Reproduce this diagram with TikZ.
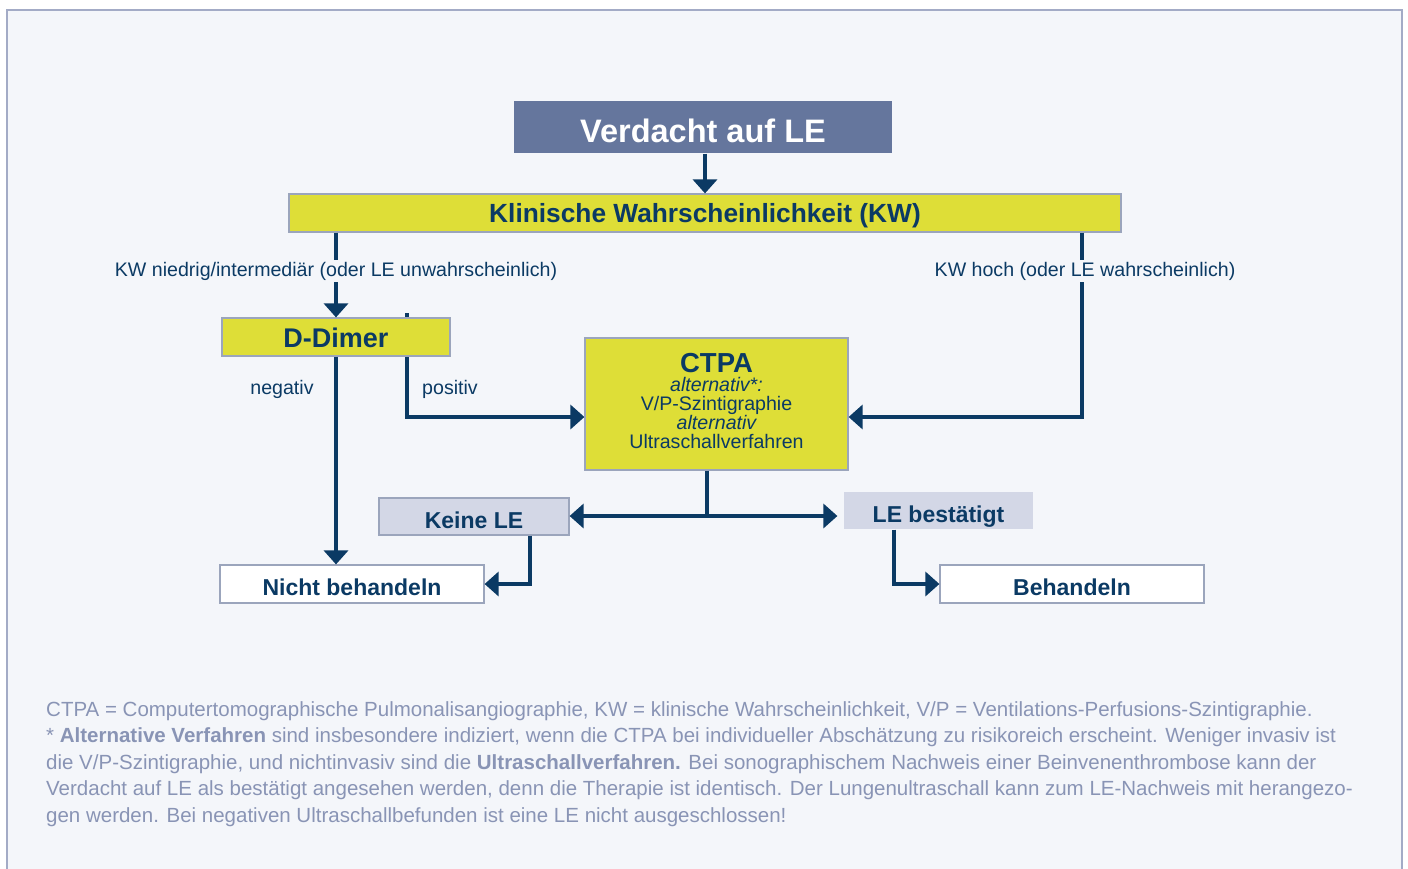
\documentclass[tikz,border=0pt]{standalone}
\usepackage{fontspec}
\setmainfont{Liberation Sans}
\usetikzlibrary{arrows.meta,calc,backgrounds}
\definecolor{bgc}{HTML}{F4F6FA}
\definecolor{framec}{HTML}{A3ABC6}
\definecolor{navy}{HTML}{0B3A64}
\definecolor{yel}{HTML}{DEDE37}
\definecolor{boxb}{HTML}{9BA5BC}
\definecolor{slate}{HTML}{65769D}
\definecolor{lightbox}{HTML}{D3D7E6}
\definecolor{foot}{HTML}{8994B5}
\tikzset{
  box/.style={draw=boxb, line width=1.2pt, inner sep=0pt, text=navy, text depth=0pt, font=\fontsize{23}{26}\selectfont\bfseries},
  yelbox/.style={box, fill=yel},
  greybox/.style={box, fill=lightbox},
  whitebox/.style={box, fill=white},
  conn/.style={draw=navy, line width=4pt},
  arr/.style={conn, -{Triangle[width=24pt,length=14pt]}},
  lab/.style={text=navy, font=\fontsize{19.6}{22}\selectfont, inner sep=2pt},
}
\begin{document}
\begin{tikzpicture}[x=1pt,y=-1pt]
\useasboundingbox (0,0) rectangle (1408,868);
% nodes
\node[box, draw=none, fill=slate, text=white, text height=30.3pt, minimum width=378pt, minimum height=52pt, font=\fontsize{32.5}{36}\selectfont\bfseries] (verdacht) at (703,127) {Verdacht auf LE};
\node[yelbox, text height=19.8pt, minimum width=832pt, minimum height=38pt, font=\fontsize{26.3}{30}\selectfont\bfseries] (kw) at (705,213) {Klinische Wahrscheinlichkeit (KW)};
\node[yelbox, text height=20.3pt, minimum width=228pt, minimum height=38pt, font=\fontsize{27}{30}\selectfont\bfseries] (ddimer) at (336,337) {D-Dimer};
\node[yelbox, minimum width=263pt, minimum height=132pt] (ctpa) at (716.5,404) {};
\node[greybox, text height=24.5pt, minimum width=190pt, minimum height=37pt] (keine) at (474,516.5) {Keine LE};
\node[greybox, text height=24.5pt, draw=none, minimum width=189pt, minimum height=37pt] (lebest) at (938.5,510.5) {LE bestätigt};
\node[whitebox, text height=22.5pt, minimum width=264pt, minimum height=38pt] (nicht) at (352,584) {Nicht behandeln};
\node[whitebox, text height=22.5pt, minimum width=264pt, minimum height=38pt] (behandeln) at (1072,584) {Behandeln};
% CTPA text
\node[anchor=north, inner sep=0pt, align=center, text=navy, font=\fontsize{19.6}{18.9}\selectfont] (ctpatext) at (716.5,353)
  {{\fontsize{27.5}{28}\selectfont\bfseries CTPA}\\ {\itshape alternativ*:}\\ V/P-Szintigraphie\\ {\itshape alternativ}\\ Ultraschallverfahren};
% coordinates
\coordinate (hoch) at (1082,0);
\coordinate (posTop) at (407,313);
\coordinate (split) at (707,516);
\coordinate (keineDown) at (530,0);
\coordinate (bestDown) at (894,0);
% background: frame and the positive connector behind D-Dimer
\begin{pgfonlayer}{background}
\draw[draw=framec, fill=bgc, line width=2pt] (7,10) rectangle (1402,875);
\draw[arr] (posTop) |- ($(ctpa.west)+(0,13)$);
\end{pgfonlayer}
% connectors
\draw[arr] (kw.north |- verdacht.south) -- (kw.north);
\draw[arr] (kw.south -| ddimer.north) -- (ddimer.north);
\draw[arr] (kw.south -| hoch) |- ($(ctpa.east)+(0,13)$);
\draw[arr] (ddimer.south) -- (ddimer.south |- nicht.north);
\draw[conn] (ctpa.south -| split) -- (split);
\draw[arr] (split) -- (keine.east |- split);
\draw[arr] (split) -- ([xshift=-6pt]lebest.west |- split);
\draw[arr] (keine.south -| keineDown) |- (nicht.east);
\draw[arr] (lebest.south -| bestDown) |- (behandeln.west);
% labels
\node[lab, fill=bgc] (lniedrig) at (336,271) {KW niedrig/intermediär (oder LE unwahrscheinlich)};
\node[lab, fill=bgc] (lhoch) at (1085,271) {KW hoch (oder LE wahrscheinlich)};
\node[lab] (lneg) at (282,389) {negativ};
\node[lab, anchor=west] (lpos) at (420,389) {positiv};
% footnote
\node[anchor=north west, inner sep=0pt, align=left, text=foot, font=\fontsize{20.5}{26.5}\selectfont] (fn) at (46,701)
{CTPA = Computertomographische Pulmonalisangiographie, KW = klinische Wahrscheinlichkeit, V/P = Ventilations-Perfusions-Szintigraphie.\\
* \textbf{Alternative Verfahren} sind insbesondere indiziert, wenn die CTPA bei individueller Abschätzung zu risikoreich erscheint. Weniger invasiv ist\\
die V/P-Szintigraphie, und nichtinvasiv sind die \textbf{Ultraschallverfahren.} Bei sonographischem Nachweis einer Beinvenenthrombose kann der\\
Verdacht auf LE als bestätigt angesehen werden, denn die Therapie ist identisch. Der Lungenultraschall kann zum LE-Nachweis mit herangezo-\\
gen werden. Bei negativen Ultraschallbefunden ist eine LE nicht ausgeschlossen!};
\end{tikzpicture}
\end{document}
